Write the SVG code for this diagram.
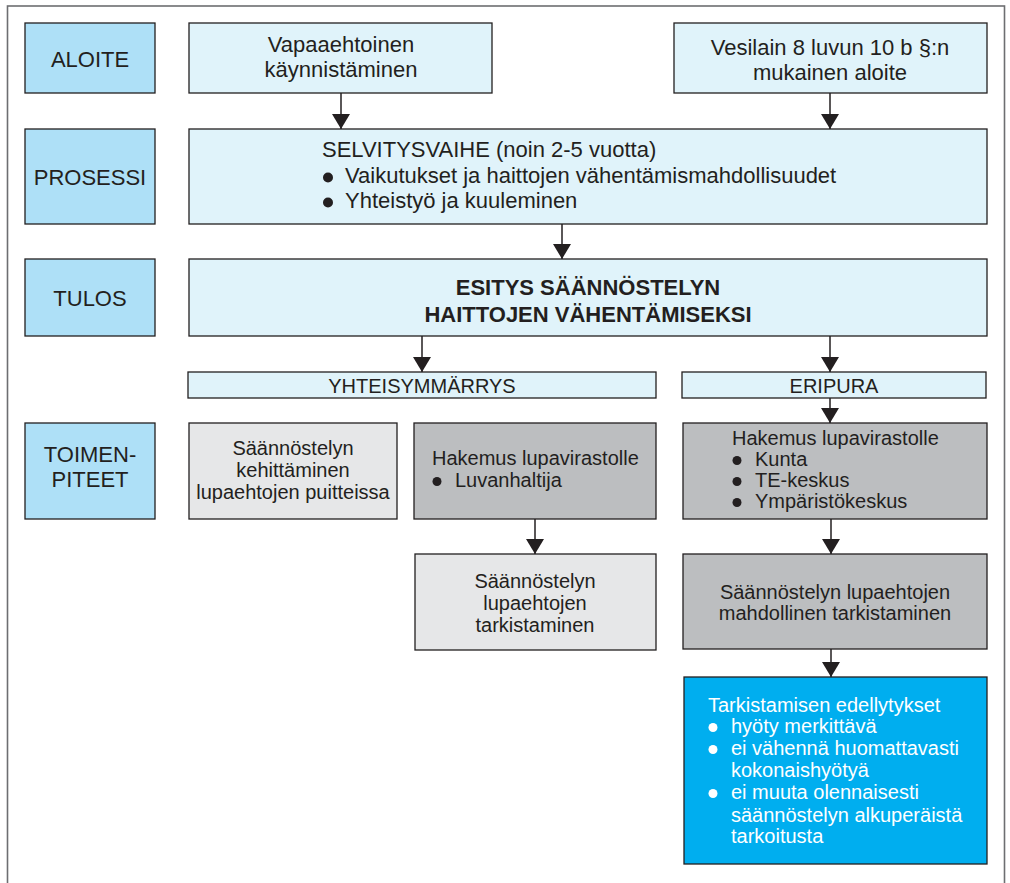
<svg xmlns="http://www.w3.org/2000/svg" width="1010" height="883" viewBox="0 0 1010 883">
<defs>
<style>
.lbl{fill:#aee0f7;stroke:#231f20;stroke-width:1.3}
.lt{fill:#e0f3fa;stroke:#231f20;stroke-width:1.3}
.g1{fill:#e6e7e8;stroke:#231f20;stroke-width:1.3}
.g2{fill:#bcbec0;stroke:#231f20;stroke-width:1.3}
.bl{fill:#00aeef;stroke:#231f20;stroke-width:1.3}
text{font-family:"Liberation Sans",Arial,sans-serif;fill:#231f20}
.t22{font-size:22px}
.t20{font-size:20px}
.b22{font-size:22px;font-weight:bold}
.c{text-anchor:middle}
.w{fill:#ffffff}
.dot{fill:#231f20}
.wdot{fill:#ffffff}
.con{stroke:#231f20;stroke-width:1.5;fill:none}
</style>
<marker id="ah" markerUnits="userSpaceOnUse" markerWidth="16" markerHeight="18" refX="15" refY="9" orient="auto" viewBox="0 0 16 18">
<path d="M0,0 L15,9 L0,18 z" fill="#231f20"/>
</marker>
</defs>
<rect x="0" y="0" width="1010" height="883" fill="#ffffff"/>
<rect x="7.5" y="6" width="997" height="900" fill="none" stroke="#6d6e71" stroke-width="1.6"/>

<g id="aloite"><rect class="lbl" x="25" y="23" width="130" height="70"/><text class="t22 c" x="90" y="67">ALOITE</text></g>
<g id="prosessi"><rect class="lbl" x="25" y="129" width="130" height="95"/><text class="t22 c" x="90" y="185">PROSESSI</text></g>
<g id="tulos"><rect class="lbl" x="25" y="259" width="130" height="77"/><text class="t22 c" x="90" y="306">TULOS</text></g>
<g id="toimenpiteet"><rect class="lbl" x="25" y="423" width="130" height="96"/><text class="t22 c" x="90" y="462">TOIMEN-</text><text class="t22 c" x="90" y="487">PITEET</text></g>

<g id="vapaaehtoinen"><rect class="lt" x="189" y="23" width="303" height="70"/><text class="t22 c" x="341" y="52">Vapaaehtoinen</text><text class="t22 c" x="341" y="77">käynnistäminen</text></g>
<g id="vesilain"><rect class="lt" x="674" y="23" width="313" height="70"/><text class="t22 c" x="830" y="55">Vesilain 8 luvun 10 b §:n</text><text class="t22 c" x="830" y="80">mukainen aloite</text></g>

<g id="selvitysvaihe"><rect class="lt" x="189" y="129" width="798" height="95"/>
<text class="t22" x="322" y="157">SELVITYSVAIHE (noin 2-5 vuotta)</text>
<circle class="dot" cx="328" cy="177.5" r="5"/><text class="t22" x="345" y="183">Vaikutukset ja haittojen vähentämismahdollisuudet</text>
<circle class="dot" cx="328" cy="202.5" r="5"/><text class="t22" x="345" y="208">Yhteistyö ja kuuleminen</text></g>

<g id="esitys"><rect class="lt" x="189" y="259" width="798" height="77"/><text class="b22 c" x="588" y="295">ESITYS SÄÄNNÖSTELYN</text><text class="b22 c" x="588" y="322">HAITTOJEN VÄHENTÄMISEKSI</text></g>

<g id="yhteisymmarrys"><rect class="lt" x="188" y="372" width="468" height="26"/><text class="t20 c" x="422" y="393">YHTEISYMMÄRRYS</text></g>
<g id="eripura"><rect class="lt" x="682" y="372" width="304" height="26"/><text class="t20 c" x="834" y="393">ERIPURA</text></g>

<g id="kehittaminen"><rect class="g1" x="189" y="423" width="208" height="96"/><text class="t20 c" x="293" y="455">Säännöstelyn</text><text class="t20 c" x="293" y="477">kehittäminen</text><text class="t20 c" x="293" y="499">lupaehtojen puitteissa</text></g>
<g id="hakemus1"><rect class="g2" x="414" y="423" width="242" height="96"/><text class="t20" x="432" y="465">Hakemus lupavirastolle</text><circle class="dot" cx="437" cy="481.5" r="4.5"/><text class="t20" x="455" y="487">Luvanhaltija</text></g>
<g id="hakemus2"><rect class="g2" x="683" y="423" width="304" height="96"/><text class="t20" x="732" y="445">Hakemus lupavirastolle</text>
<circle class="dot" cx="737" cy="460.5" r="4.5"/><text class="t20" x="755" y="466">Kunta</text>
<circle class="dot" cx="737" cy="481.5" r="4.5"/><text class="t20" x="755" y="487">TE-keskus</text>
<circle class="dot" cx="737" cy="502.5" r="4.5"/><text class="t20" x="755" y="508">Ympäristökeskus</text></g>

<g id="tarkistaminen1"><rect class="g1" x="415" y="554" width="241" height="96"/><text class="t20 c" x="535" y="588">Säännöstelyn</text><text class="t20 c" x="535" y="610">lupaehtojen</text><text class="t20 c" x="535" y="632">tarkistaminen</text></g>
<g id="tarkistaminen2"><rect class="g2" x="683" y="554" width="304" height="95"/><text class="t20 c" x="835" y="599">Säännöstelyn lupaehtojen</text><text class="t20 c" x="835" y="620">mahdollinen tarkistaminen</text></g>

<g id="edellytykset"><rect class="bl" x="684" y="677" width="303" height="187"/>
<text class="t20 w" x="708" y="712">Tarkistamisen edellytykset</text>
<circle class="wdot" cx="713" cy="727.5" r="4.5"/><text class="t20 w" x="731" y="733">hyöty merkittävä</text>
<circle class="wdot" cx="713" cy="749.5" r="4.5"/><text class="t20 w" x="731" y="755">ei vähennä huomattavasti</text>
<text class="t20 w" x="731" y="777">kokonaishyötyä</text>
<circle class="wdot" cx="713" cy="793.5" r="4.5"/><text class="t20 w" x="731" y="799">ei muuta olennaisesti</text>
<text class="t20 w" x="731" y="822">säännöstelyn alkuperäistä</text>
<text class="t20 w" x="731" y="843">tarkoitusta</text></g>

<g id="connectors">
<line class="con" x1="341" y1="93" x2="341" y2="129" marker-end="url(#ah)"/>
<line class="con" x1="830" y1="93" x2="830" y2="129" marker-end="url(#ah)"/>
<line class="con" x1="562" y1="224" x2="562" y2="259" marker-end="url(#ah)"/>
<line class="con" x1="422" y1="336" x2="422" y2="372" marker-end="url(#ah)"/>
<line class="con" x1="830" y1="336" x2="830" y2="372" marker-end="url(#ah)"/>
<line class="con" x1="830" y1="398" x2="830" y2="423" marker-end="url(#ah)"/>
<line class="con" x1="535" y1="519" x2="535" y2="554" marker-end="url(#ah)"/>
<line class="con" x1="831" y1="519" x2="831" y2="554" marker-end="url(#ah)"/>
<line class="con" x1="831" y1="649" x2="831" y2="677" marker-end="url(#ah)"/>
</g>
</svg>
